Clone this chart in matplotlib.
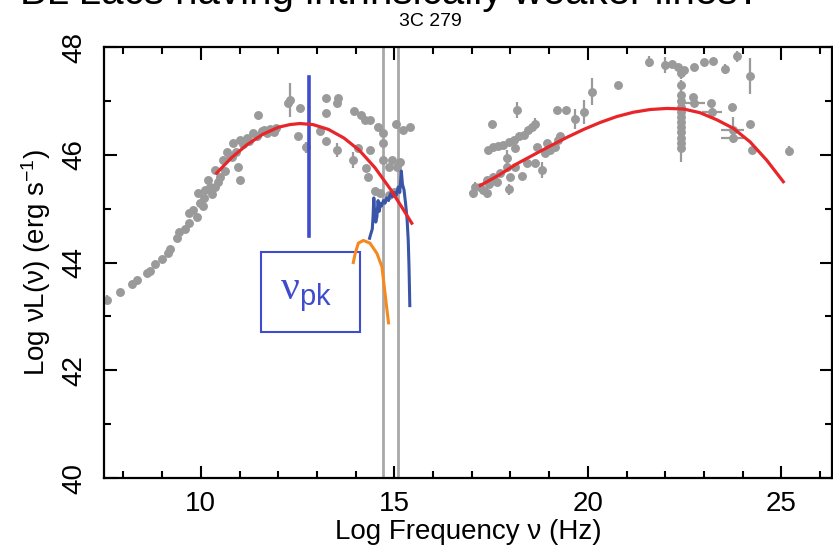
import matplotlib
matplotlib.use('Agg')
import matplotlib.pyplot as plt
from matplotlib.patches import Rectangle
from matplotlib.ticker import MultipleLocator

plt.rcParams['font.family'] = ['Liberation Sans', 'DejaVu Sans']
plt.rcParams['mathtext.fontset'] = 'custom'
plt.rcParams['mathtext.rm'] = 'Liberation Sans'
plt.rcParams['mathtext.it'] = 'Liberation Sans:italic'
plt.rcParams['mathtext.sf'] = 'Liberation Serif'

# --- data (log nu, log nuL) ---
# synchrotron branch, gray points
sync_x = [7.57, 7.90, 8.23, 8.35, 8.60, 8.70, 8.82, 8.99, 9.16, 9.20, 9.39, 9.44,
          9.60, 9.70, 9.70, 9.81, 9.90, 9.94, 9.98, 10.05, 10.07, 10.12, 10.19,
          10.24, 10.30, 10.37, 10.37, 10.45, 10.50, 10.58, 10.62, 10.67, 10.75,
          10.80, 10.84, 10.90, 10.97, 11.01, 11.01, 11.10, 11.19, 11.25, 11.36,
          11.45, 11.49, 11.57, 11.62, 11.70, 11.80, 11.88, 11.95, 12.26, 12.31,
          12.55, 12.50, 12.71, 13.08, 13.24, 13.24, 13.24, 13.51, 13.55, 13.51,
          13.94, 13.96, 14.07, 14.13, 14.24, 14.27, 14.33, 14.37, 14.37, 14.50,
          14.59, 14.63, 14.72, 14.72, 14.72, 14.85, 14.85, 14.93, 15.00, 15.05,
          15.06, 15.15, 15.23, 15.41]
sync_y = [43.31, 43.46, 43.60, 43.68, 43.80, 43.85, 43.97, 44.07, 44.17, 44.25, 44.45, 44.56,
          44.62, 44.73, 44.91, 44.98, 44.85, 45.29, 45.10, 45.05, 45.19, 45.35, 45.53,
          45.41, 45.28, 45.72, 45.41, 45.50, 45.59, 45.90, 45.70, 46.06, 45.98,
          45.96, 46.21, 46.05, 45.78, 45.53, 46.27, 46.20, 46.31, 46.25, 46.40,
          46.35, 46.74, 46.45, 46.46, 46.40, 46.48, 46.43, 46.50, 46.96, 47.02,
          46.86, 46.34, 46.14, 46.45, 47.05, 46.77, 46.26, 46.96, 47.05, 46.09,
          45.90, 46.82, 46.12, 46.74, 46.65, 45.75, 45.59, 46.65, 46.09, 45.32,
          46.52, 45.29, 46.40, 46.21, 45.90, 45.78, 45.25, 45.90, 45.30, 46.57,
          45.78, 45.87, 46.46, 46.52]
sync_yerr = [0.08, 0.05, 0.05, 0, 0, 0, 0, 0, 0.05, 0, 0.05, 0.05,
             0, 0.05, 0, 0, 0, 0, 0, 0, 0, 0, 0,
             0, 0, 0, 0, 0, 0, 0, 0, 0, 0,
             0, 0, 0, 0.05, 0, 0, 0, 0, 0, 0,
             0, 0, 0, 0, 0, 0, 0, 0, 0, 0.32,
             0, 0, 0.1, 0, 0, 0, 0, 0, 0, 0.13,
             0.15, 0, 0, 0, 0, 0, 0, 0, 0, 0,
             0, 0, 0, 0, 0, 0, 0, 0, 0, 0,
             0, 0, 0, 0]

# inverse-Compton branch, gray points
ic_x = [17.04, 17.09, 17.22, 17.30, 17.39, 17.39, 17.45, 17.52, 17.43, 17.56, 17.56,
        17.65, 17.69, 17.73, 17.82, 17.91, 17.91, 17.95, 17.97, 17.99, 18.08, 18.12,
        18.12, 18.18, 18.21, 18.29, 18.34, 18.42, 18.46, 18.55, 18.64, 18.64, 18.68,
        18.81, 18.90, 18.94, 19.02, 19.15, 19.24, 19.28, 19.21, 19.44, 19.67, 19.89,
        20.10, 20.79, 21.59, 21.99, 22.17, 22.34, 22.49, 22.73, 22.99, 23.24, 23.55,
        23.85, 24.19,
        22.41, 22.41, 22.41, 22.41, 22.41, 22.41, 22.41, 22.41, 22.41, 22.41, 22.41,
        22.41, 22.41,
        22.71, 22.73, 23.19, 23.20, 23.72, 23.74, 23.74, 24.19, 24.24, 25.19]
ic_y = [45.29, 45.41, 45.41, 45.35, 45.29, 45.53, 45.45, 46.58, 46.09, 46.15, 45.59,
        45.50, 46.16, 45.66, 46.18, 45.78, 45.94, 46.24, 45.36, 45.59, 46.27, 46.12,
        45.78, 46.83, 46.34, 45.61, 46.37, 45.84, 46.46, 46.52, 46.58, 45.84, 46.15,
        45.72, 46.03, 46.21, 46.09, 46.15, 46.27, 46.34, 46.83, 46.83, 46.66, 46.79,
        47.17, 47.29, 47.73, 47.67, 47.68, 47.63, 47.57, 47.63, 47.73, 47.74, 47.59,
        47.83, 47.46,
        47.51, 47.29, 47.11, 46.99, 46.89, 46.80, 46.71, 46.61, 46.52, 46.43, 46.31,
        46.21, 46.12,
        47.08, 46.96, 46.97, 46.80, 46.88, 46.46, 46.31, 46.58, 46.09, 46.07]
ic_xerr = [0.1, 0, 0, 0, 0, 0, 0, 0, 0, 0, 0,
           0, 0, 0, 0, 0, 0, 0, 0, 0, 0, 0,
           0, 0, 0, 0.1, 0, 0, 0, 0, 0, 0, 0,
           0, 0, 0, 0, 0, 0, 0, 0, 0, 0, 0,
           0, 0, 0, 0, 0, 0, 0, 0, 0, 0, 0,
           0, 0,
           0, 0, 0, 0, 0, 0, 0, 0, 0, 0, 0,
           0, 0,
           0, 0.3, 0, 0.26, 0, 0.3, 0.3, 0, 0, 0]
ic_yerr = [0.1, 0.08, 0, 0.08, 0.1, 0, 0, 0, 0, 0, 0,
           0.05, 0, 0, 0, 0, 0.15, 0, 0.1, 0, 0, 0,
           0, 0.15, 0, 0, 0, 0, 0, 0, 0.1, 0, 0,
           0.15, 0, 0, 0, 0, 0, 0, 0, 0, 0.19, 0.22,
           0.25, 0, 0.1, 0.15, 0, 0, 0, 0, 0, 0, 0.1,
           0.1, 0.34,
           0.1, 0.1, 0.1, 0.1, 0.1, 0.1, 0.1, 0.1, 0.1, 0.1, 0.1,
           0.1, 0.25,
           0, 0, 0, 0.1, 0, 0.25, 0, 0, 0, 0.1]

# model curves (red)
fit_lo_x = [10.41, 10.8, 11.2, 11.6, 12.0, 12.3, 12.56, 12.9, 13.3, 13.7,
            14.1, 14.5, 14.9, 15.2, 15.45]
fit_lo_y = [45.66, 45.95, 46.19, 46.38, 46.51, 46.56, 46.58, 46.56, 46.47, 46.31,
            46.08, 45.76, 45.36, 45.02, 44.73]
fit_hi_x = [17.22, 17.7, 18.16, 18.6, 19.02, 19.45, 19.89, 20.32, 20.75, 21.18,
            21.61, 22.04, 22.47, 22.9, 23.33, 23.76, 24.19, 24.62, 25.05]
fit_hi_y = [45.43, 45.62, 45.83, 46.0, 46.16, 46.32, 46.47, 46.60, 46.71, 46.79,
            46.84, 46.86, 46.85, 46.78, 46.65, 46.49, 46.24, 45.90, 45.50]

# disk bump (orange) and optical spectrum (blue)
disk_x = [13.94, 13.99, 14.07, 14.20, 14.37, 14.55, 14.68, 14.74, 14.80, 14.85]
disk_y = [44.00, 44.17, 44.36, 44.41, 44.36, 44.17, 43.92, 43.55, 43.18, 42.88]
spec_x = [14.36, 14.40, 14.43, 14.45, 14.47, 14.49, 14.52, 14.55, 14.58, 14.61,
          14.64, 14.67, 14.72, 14.76, 14.80, 14.85, 14.90, 14.95, 15.00, 15.05,
          15.10, 15.14, 15.18, 15.21, 15.25, 15.29, 15.33, 15.36, 15.38, 15.40]
spec_y = [44.45, 44.55, 44.62, 44.85, 45.20, 44.95, 44.75, 44.85, 45.15, 44.95,
          45.10, 45.05, 45.15, 45.10, 45.20, 45.15, 45.28, 45.22, 45.30, 45.25,
          45.40, 45.30, 45.70, 45.45, 45.35, 45.10, 44.80, 44.40, 43.90, 43.20]

line_freqs = [14.71, 15.10]
nu_pk = 12.80
nu_pk_range = [44.49, 47.44]

gray = '#9a9a9a'
blue = '#3f4ccc'

fig = plt.figure(figsize=(8.33, 5.48), dpi=100)
ax = fig.add_axes([0.1249, 0.1277, 0.874, 0.7865])

for f in line_freqs:
    ax.axvline(f, color='#a8a8a8', lw=2.0, zorder=1)

ax.errorbar(sync_x, sync_y, yerr=sync_yerr, fmt='o', color=gray, ms=5.4,
            elinewidth=1.6, capsize=0, zorder=2)
ax.errorbar(ic_x, ic_y, xerr=ic_xerr, yerr=ic_yerr, fmt='o', color=gray, ms=5.4,
            elinewidth=1.6, capsize=0, zorder=2)

ax.plot(fit_lo_x, fit_lo_y, color='#e8262a', lw=2.3, zorder=4)
ax.plot(fit_hi_x, fit_hi_y, color='#e8262a', lw=2.3, zorder=4)
ax.plot(disk_x, disk_y, color='#f5891f', lw=2.2, zorder=3)
ax.plot(spec_x, spec_y, color='#3a55a8', lw=2.2, zorder=3)
ax.plot([nu_pk, nu_pk], nu_pk_range, color=blue, lw=2.6, zorder=3)

ax.add_patch(Rectangle((11.56, 42.71), 2.56, 1.49, fill=False, edgecolor=blue, lw=1.5))
ax.text(12.72, 43.42, r'$\mathsf{ν}_{\mathrm{pk}}$', color=blue, fontsize=30,
        ha='center', va='center')

ax.set_xlim(7.5, 26.31)
ax.set_ylim(40, 48)
ax.xaxis.set_major_locator(MultipleLocator(5))
ax.xaxis.set_minor_locator(MultipleLocator(1))
ax.yaxis.set_major_locator(MultipleLocator(2))
ax.yaxis.set_minor_locator(MultipleLocator(1))
ax.tick_params(which='both', direction='in', top=True, right=True, width=1.5,
               labelsize=20)
ax.tick_params(which='major', length=9)
ax.tick_params(which='minor', length=5)
ax.tick_params(axis='x', pad=9)
ax.tick_params(axis='y', pad=12)
for lab in ax.get_yticklabels():
    lab.set_rotation(90)
    lab.set_va('center')
for s in ax.spines.values():
    s.set_linewidth(1.6)

ax.set_xlabel('Log Frequency ν (Hz)', fontsize=20, labelpad=2)
ax.set_ylabel(r'Log νL(ν) (erg s$^{\mathrm{-1}}$)', fontsize=20, labelpad=6)
ax.set_title('3C 279', fontsize=14, pad=15, x=0.448)

fig.text(0.468, 1 - 4 / 548, 'BL Lacs having intrinsically weaker lines?',
         fontsize=29, ha='center', va='baseline')

fig.savefig('out.png', dpi=100)
